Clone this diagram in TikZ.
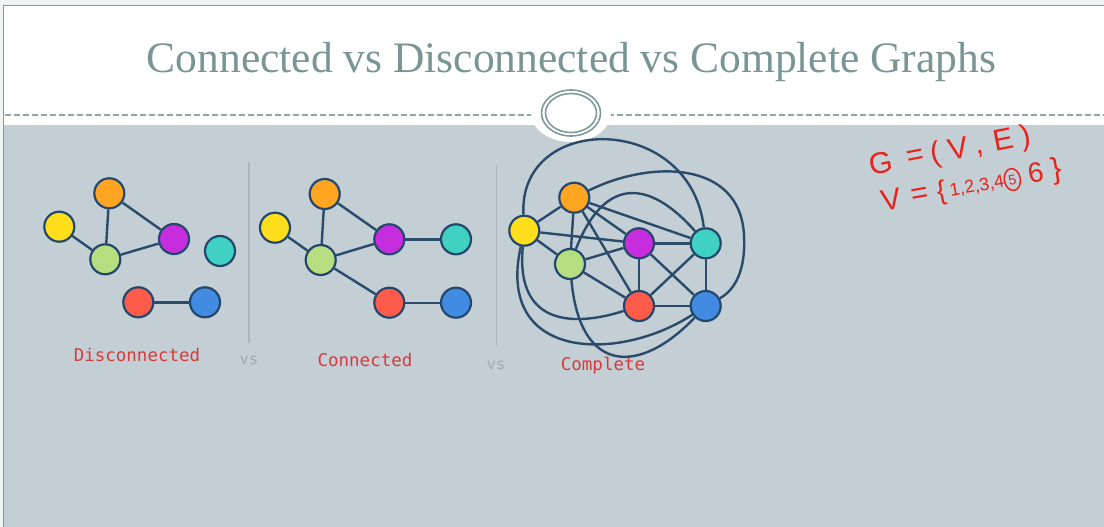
\documentclass[tikz,border=0pt]{standalone}
\usepackage{fontspec}
\setmainfont{Liberation Serif}
\newfontfamily\monofont{DejaVu Sans Mono}
\newfontfamily\handfont{Liberation Sans}

\definecolor{pageout}{HTML}{F1F4F4}
\definecolor{framecol}{HTML}{7E9B99}
\definecolor{bodygray}{HTML}{C3CFD5}
\definecolor{dashcol}{HTML}{8FA6A7}
\definecolor{titlecol}{HTML}{7A9595}
\definecolor{sepgray}{HTML}{A9B6BB}
\definecolor{vsgray}{HTML}{9EA9AE}
\definecolor{labelred}{HTML}{D63B3B}
\definecolor{nodeline}{HTML}{24476B}
\definecolor{edgecol}{HTML}{2B4B6B}
\definecolor{vyellow}{HTML}{FFDF1C}
\definecolor{vorange}{HTML}{FFA521}
\definecolor{vgreen}{HTML}{B6DD80}
\definecolor{vpurple}{HTML}{C62DDF}
\definecolor{vteal}{HTML}{41D1C2}
\definecolor{vred}{HTML}{FF5B4A}
\definecolor{vblue}{HTML}{418BE3}
\definecolor{inkred}{HTML}{E8231C}

\begin{document}
\begin{tikzpicture}[x=1pt,y=-1pt,
  vtx/.style={circle, draw=nodeline, line width=2.2pt, minimum size=30pt, inner sep=0pt},
  edge/.style={draw=edgecol, line width=2.4pt},
  lbl/.style={text=labelred, font=\monofont\fontsize{17.5}{18}\selectfont, anchor=base},
  vslbl/.style={text=vsgray, font=\monofont\fontsize{15}{16}\selectfont, anchor=base},
  sepline/.style={draw=sepgray, line width=1.2pt},
  ink/.style={text=inkred, anchor=base, inner sep=0pt, transform shape},
  inkbig/.style={ink, font=\handfont\fontsize{30}{30}\selectfont}]

\useasboundingbox (0,0) rectangle (1104,527);

% slide background, header and frame
\fill[pageout] (0,0) rectangle (1104,527);
\fill[white] (4,6) rectangle (1104,125);
\fill[bodygray] (4,125) rectangle (1104,527);
\draw[framecol, line width=1.5pt] (3.5,527) -- (3.5,5.5) -- (1104,5.5);

% dashed rule with the ring ornament
\draw[dashcol, line width=1.8pt, dash pattern=on 6pt off 3pt] (5,115) -- (536,115);
\draw[dashcol, line width=1.8pt, dash pattern=on 6pt off 3pt] (608,115) -- (1104,115);
\fill[white] (571,113) ellipse [x radius=40, y radius=29];
\draw[framecol, line width=1.6pt] (571,113) ellipse [x radius=29.5, y radius=23];
\draw[framecol, line width=1.6pt] (571,113) ellipse [x radius=25.5, y radius=19.5];

% title
\node[text=titlecol, anchor=base, inner sep=0pt,
      font=\fontsize{43.5}{44}\selectfont] (title) at (571.5,73)
  {Connected vs Disconnected vs Complete Graphs};

% separators and "vs"
\draw[sepline] (249,162) -- (249,343);
\draw[sepline] (496.5,165) -- (496.5,346);
\node[vslbl] (vs1) at (249,364) {vs};
\node[vslbl] (vs2) at (496,369) {vs};

% ---------- disconnected graph ----------
\node[vtx, fill=vorange] (do) at (109.3,193.3) {};
\node[vtx, fill=vyellow] (dy) at (59.3,226.7) {};
\node[vtx, fill=vgreen]  (dg) at (105.3,259.3) {};
\node[vtx, fill=vpurple] (dp) at (174,239) {};
\node[vtx, fill=vteal]   (dt) at (220,251) {};
\node[vtx, fill=vred]    (dr) at (138.3,302.3) {};
\node[vtx, fill=vblue]   (db) at (205,302.3) {};
\draw[edge] (dy) -- (dg);
\draw[edge] (dg) -- (do);
\draw[edge] (do) -- (dp);
\draw[edge] (dg) -- (dp);
\draw[edge] (dr) -- (db);
\node[lbl] (dlabel) at (137,361) {Disconnected};

% ---------- connected graph ----------
\node[vtx, fill=vorange] (co) at (324.7,194) {};
\node[vtx, fill=vyellow] (cy) at (275,227.7) {};
\node[vtx, fill=vgreen]  (cg) at (320.7,260) {};
\node[vtx, fill=vpurple] (cp) at (389.3,239.3) {};
\node[vtx, fill=vteal]   (ct) at (456,239.3) {};
\node[vtx, fill=vred]    (cr) at (389.3,302.7) {};
\node[vtx, fill=vblue]   (cb) at (456,302.7) {};
\draw[edge] (cy) -- (cg);
\draw[edge] (cg) -- (co);
\draw[edge] (co) -- (cp);
\draw[edge] (cg) -- (cp);
\draw[edge] (cp) -- (ct);
\draw[edge] (cg) -- (cr);
\draw[edge] (cr) -- (cb);
\node[lbl] (clabel) at (365,366) {Connected};

% ---------- complete graph ----------
\node[vtx, fill=vorange] (ko) at (574.3,197.7) {};
\node[vtx, fill=vyellow] (ky) at (524.3,230.7) {};
\node[vtx, fill=vgreen]  (kg) at (570,264) {};
\node[vtx, fill=vpurple] (kp) at (639,243.3) {};
\node[vtx, fill=vteal]   (kt) at (705.7,243.3) {};
\node[vtx, fill=vred]    (kr) at (639,306) {};
\node[vtx, fill=vblue]   (kb) at (705.7,306) {};
% straight edges
\draw[edge] (ky) -- (ko);
\draw[edge] (ky) -- (kg);
\draw[edge] (ky) -- (kp);
\draw[edge] (ko) -- (kg);
\draw[edge] (ko) -- (kp);
\draw[edge] (ko) -- (kt);
\draw[edge] (ko) -- (kr);
\draw[edge] (kg) -- (kp);
\draw[edge] (kg) -- (kr);
\draw[edge] (kp) -- (kt);
\draw[edge] (kp) -- (kr);
\draw[edge] (kp) -- (kb);
\draw[edge] (kt) -- (kr);
\draw[edge] (kt) -- (kb);
\draw[edge] (kr) -- (kb);
% curved edges
\draw[edge] (ky) .. controls (518,112) and (690,112) .. (kt);
\draw[edge] (ko) .. controls (650,160) and (740,160) .. (744,235)
                 .. controls (746,270) and (735,290) .. (kb);
\draw[edge] (kg) .. controls (605,175) and (650,180) .. (kt);
\draw[edge] (ky) .. controls (515,330) and (580,325) .. (kr);
\draw[edge] (ky) .. controls (495,362) and (620,362) .. (kb);
\draw[edge] (kg) .. controls (580,375) and (640,375) .. (kb);
\node[lbl] (klabel) at (603,370) {Complete};

% ---------- handwritten notes ----------
\begin{scope}[shift={(874,175)}, rotate=11]
  \node[inkbig] (gg)  at (9,0)   {G};
  \node[inkbig] (geq) at (44,-2) {=};
  \node[inkbig] (glp) at (65,0)  {(};
  \node[inkbig] (gv)  at (88,0)  {V};
  \node[inkbig] (gcm) at (109,0) {,};
  \node[inkbig] (ge)  at (134,0) {E};
  \node[inkbig] (grp) at (156,0) {)};
\end{scope}
\begin{scope}[shift={(880,212)}, rotate=10]
  \node[inkbig] (vv)  at (13,0)  {V};
  \node[inkbig] (veq) at (42,-2) {=};
  \node[ink, font=\handfont\fontsize{27}{27}\selectfont] (vob) at (64,-1) {\{};
  \node[ink, font=\handfont\fontsize{18}{18}\selectfont] (vnums) at (100,-3) {1,2,3,4};
  \node[ink, font=\handfont\fontsize{14}{14}\selectfont] (vfive) at (136,-4) {5};
  \draw[inkred, line width=1.5pt] (136,-9) ellipse [x radius=8, y radius=11];
  \node[ink, font=\handfont\fontsize{28}{28}\selectfont] (vsix) at (160,-2) {6};
  \node[inkbig] (vcb) at (181,-2) {\}};
\end{scope}

\end{tikzpicture}
\end{document}
